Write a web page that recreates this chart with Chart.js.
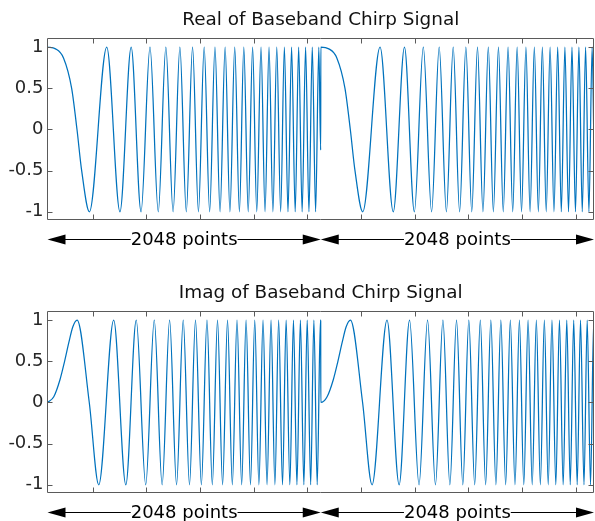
<!DOCTYPE html>
<html><head><meta charset="utf-8">
<script src="https://cdn.jsdelivr.net/npm/chart.js@4"></script>
<style>
html,body{margin:0;padding:0;background:#fff;width:595px;height:521px;overflow:hidden;}
.wrap{position:absolute;left:0;width:595px;height:273px;}
#w1{top:0}
#w2{top:273px}
canvas{display:block}
</style></head><body>
<div class="wrap" id="w1"><canvas id="c1" width="595" height="273" style="width:595px;height:273px"></canvas></div>
<div class="wrap" id="w2"><canvas id="c2" width="595" height="273" style="width:595px;height:273px"></canvas></div>
<script>
// ---- data ----
const segmentLength = 2048;
const totalSamples = 4096;
const segmentLabel = '2048 points';
const titles = ['Real of Baseband Chirp Signal', 'Imag of Baseband Chirp Signal'];
const yTicks = [-1, -0.5, 0, 0.5, 1];
const yTickLabels = ['-1', '-0.5', '0', '0.5', '1'];
const xTicks = [339, 741, 1143, 1545, 1947, 2349, 2751, 3153, 3555, 3957];

// one 2048-sample chirp segment: sample index of each turning point / read point
const realX = [0, 60, 120, 181, 221, 256,
  314, 444, 543, 627, 701, 768, 830, 887, 941, 992, 1040, 1087, 1131, 1174, 1215, 1255,
  1293, 1331, 1367, 1403, 1438, 1471, 1504, 1537, 1568, 1600, 1630, 1660, 1689, 1718,
  1747, 1775, 1802, 1829, 1856, 1882, 1908, 1934, 1959, 1984, 2009, 2033, 2047];
const realY = [1, 0.98, 0.87, 0.5, 0, -0.5,
  -1, 1, -1, 1, -1, 1, -1, 1, -1, 1, -1, 1, -1, 1, -1, 1,
  -1, 1, -1, 1, -1, 1, -1, 1, -1, 1, -1, 1, -1, 1,
  -1, 1, -1, 1, -1, 1, -1, 1, -1, 1, -1, 1, -0.25];
const imagX = [0, 47, 94, 128, 160, 190, 222, 313,
  384, 496, 587, 665, 736, 800, 859, 915, 967, 1017, 1064, 1109, 1153, 1195, 1235, 1274,
  1312, 1349, 1385, 1420, 1455, 1488, 1521, 1553, 1584, 1615, 1645, 1675, 1704, 1732,
  1761, 1788, 1816, 1843, 1869, 1895, 1921, 1946, 1972, 1996, 2021, 2045, 2047];
const imagY = [0, 0.07, 0.28, 0.5, 0.73, 0.92, 1, 0,
  -1, 1, -1, 1, -1, 1, -1, 1, -1, 1, -1, 1, -1, 1, -1, 1,
  -1, 1, -1, 1, -1, 1, -1, 1, -1, 1, -1, 1, -1, 1,
  -1, 1, -1, 1, -1, 1, -1, 1, -1, 1, -1, 1, 0.99];

// ---- build chart tables ----
function buildPoints(xs, ys) {
  const pts = [];
  for (let s = 0; s < totalSamples / segmentLength; s++) {
    for (let i = 0; i < xs.length; i++) pts.push({x: xs[i] + s * segmentLength, y: ys[i]});
  }
  return pts;
}

const FONT = '"DejaVu Sans", "Noto Sans", sans-serif';

const framePlugin = {
  id: 'frame',
  afterDatasetsDraw(chart) {
    const {ctx, chartArea: a, scales: {x, y}} = chart;
    ctx.save();
    ctx.strokeStyle = '#5a5a5a';
    ctx.lineWidth = 1;
    const L = Math.floor(a.left) + 0.5, R = Math.ceil(a.right) - 0.5;
    const T = Math.floor(a.top) + 0.5, B = Math.ceil(a.bottom) - 0.5;
    ctx.beginPath();
    ctx.rect(L, T, R - L, B - T);
    const tl = 5;
    xTicks.forEach(v => {
      const px = Math.round(x.getPixelForValue(v)) + 0.5;
      ctx.moveTo(px, T); ctx.lineTo(px, T + tl);
      ctx.moveTo(px, B); ctx.lineTo(px, B - tl);
    });
    yTicks.forEach(v => {
      const py = Math.round(y.getPixelForValue(v)) + 0.5;
      ctx.moveTo(L, py); ctx.lineTo(L + tl, py);
      ctx.moveTo(R, py); ctx.lineTo(R - tl, py);
    });
    ctx.stroke();
    ctx.restore();
  }
};

const arrowPlugin = {
  id: 'segArrows',
  afterDraw(chart) {
    const {ctx, chartArea: a, scales: {x}} = chart;
    const ya = a.bottom + 19.5;
    const bounds = [0, segmentLength - 0.5, totalSamples - 1];
    ctx.save();
    ctx.strokeStyle = '#000';
    ctx.fillStyle = '#000';
    ctx.lineWidth = 1;
    ctx.font = '18px ' + FONT;
    ctx.textAlign = 'center';
    ctx.textBaseline = 'middle';
    const hl = 18, hw = 5;
    for (let i = 0; i < bounds.length - 1; i++) {
      const x0 = x.getPixelForValue(bounds[i]);
      const x1 = x.getPixelForValue(bounds[i + 1]);
      ctx.beginPath();
      ctx.moveTo(x0 + hl - 1, ya); ctx.lineTo(x1 - hl + 1, ya);
      ctx.stroke();
      ctx.beginPath();
      ctx.moveTo(x0, ya); ctx.lineTo(x0 + hl, ya - hw); ctx.lineTo(x0 + hl, ya + hw); ctx.closePath();
      ctx.fill();
      ctx.beginPath();
      ctx.moveTo(x1, ya); ctx.lineTo(x1 - hl, ya - hw); ctx.lineTo(x1 - hl, ya + hw); ctx.closePath();
      ctx.fill();
      const mid = (x0 + x1) / 2;
      const w = ctx.measureText(segmentLabel).width;
      ctx.fillStyle = '#fff';
      ctx.fillRect(mid - w / 2, ya - 10, w, 20);
      ctx.fillStyle = '#000';
      ctx.fillText(segmentLabel, mid, ya + 1);
    }
    ctx.restore();
  }
};

function makeChart(id, title, xs, ys) {
  return new Chart(document.getElementById(id), {
    type: 'line',
    data: {
      datasets: [{
        data: buildPoints(xs, ys),
        borderColor: '#0072BD',
        borderWidth: 1.25,
        pointRadius: 0,
        fill: false,
        tension: 0.4,
        cubicInterpolationMode: 'monotone'
      }]
    },
    options: {
      responsive: false,
      animation: false,
      devicePixelRatio: 1,
      layout: {padding: {left: 0, right: 1, top: 0, bottom: 53}},
      plugins: {
        legend: {display: false},
        tooltip: {enabled: false},
        title: {
          display: true, text: title, color: '#111', fullSize: false,
          font: {family: FONT, size: 18.4, weight: 'normal', lineHeight: 1.2},
          padding: {top: 9, bottom: 7.9}
        }
      },
      scales: {
        x: {type: 'linear', min: 0, max: totalSamples - 1, display: false},
        y: {
          type: 'linear', min: -1.1, max: 1.1,
          afterBuildTicks: s => { s.ticks = yTicks.map(v => ({value: v})); },
          afterFit: s => { s.width = 47.5; },
          grid: {display: false, drawTicks: false},
          border: {display: false},
          ticks: {
            padding: 4, color: '#262626',
            font: {family: FONT, size: 18},
            callback: v => yTickLabels[yTicks.indexOf(v)]
          }
        }
      }
    },
    plugins: [framePlugin, arrowPlugin]
  });
}

makeChart('c1', titles[0], realX, realY);
makeChart('c2', titles[1], imagX, imagY);
</script>
</body></html>
